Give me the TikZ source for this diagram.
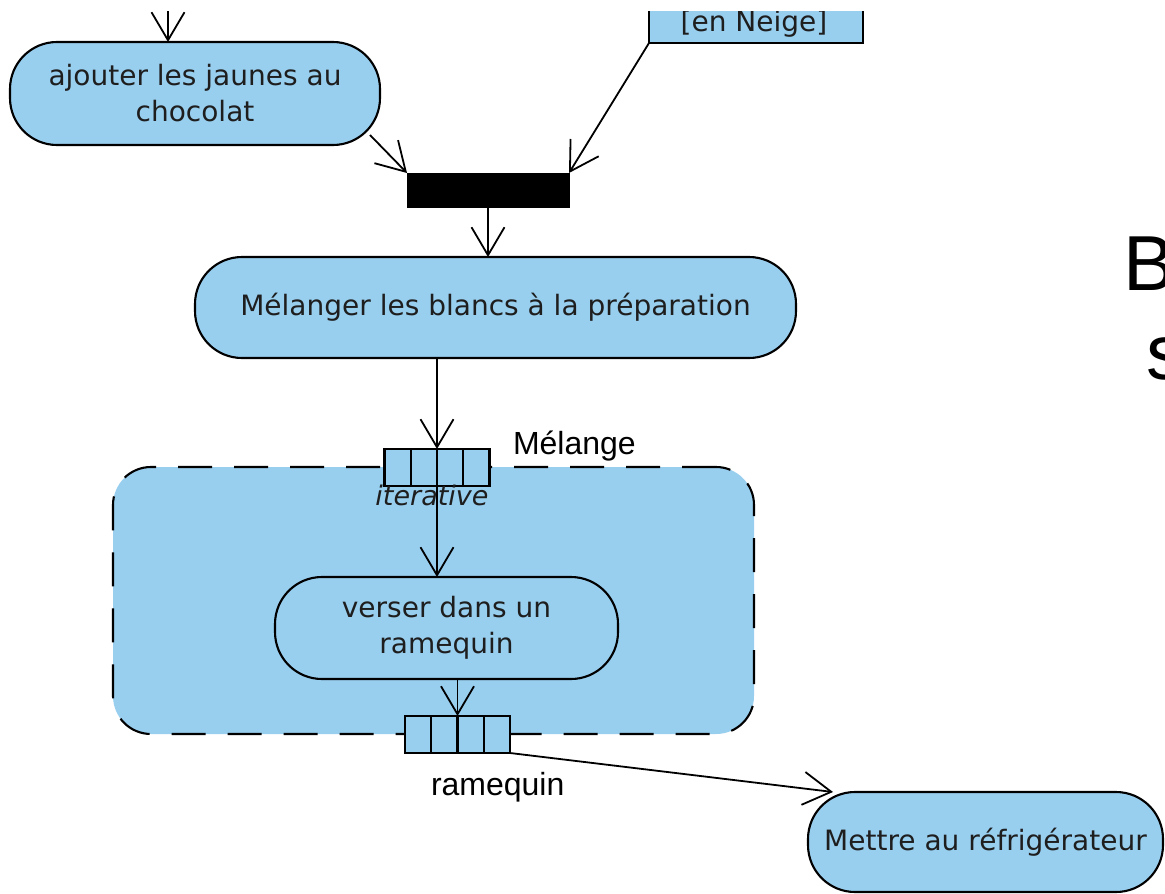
\documentclass[tikz,border=0pt]{standalone}
\usepackage{fontspec}
\setmainfont{DejaVu Sans}
\newfontfamily\labfont{Liberation Sans}
\usetikzlibrary{arrows.meta,calc}
\definecolor{actblue}{RGB}{152,206,238}
\definecolor{txt}{RGB}{30,30,30}
\begin{document}
\begin{tikzpicture}[x=1pt,y=-1pt,
  every node/.style={inner sep=0pt, outer sep=0pt},
  act/.style={draw=black, line width=2.1pt, fill=actblue, rounded corners=47pt,
    align=center, text=txt, font=\fontsize{28}{36}\selectfont},
  objbox/.style={draw=black, line width=2.1pt, fill=actblue, text=txt,
    font=\fontsize{28}{36}\selectfont},
  forkbar/.style={draw=black, fill=black, minimum width=162pt, minimum height=34pt},
  pinbox/.style={draw=black, line width=2.1pt, fill=actblue, minimum width=105pt, minimum height=37pt,
    path picture={\foreach \i in {1,2,3}{\draw[line width=2.1pt]
      ($(path picture bounding box.south west)!\i/4!(path picture bounding box.south east)$) --
      ($(path picture bounding box.north west)!\i/4!(path picture bounding box.north east)$);}}},
  expregion/.style={draw=black, line width=2.1pt, fill=actblue, dash pattern=on 34pt off 22pt,
    rounded corners=38pt, minimum width=641pt, minimum height=267pt},
  flow/.style={draw=black, line width=1.8pt,
    -{Straight Barb[length=28pt,width=33pt,line width=1.8pt]}},
  lab/.style={font=\labfont\fontsize{32}{38}\selectfont, text=black},
  big/.style={font=\labfont\fontsize{78}{90}\selectfont, text=black}]
\useasboundingbox (0,0) rectangle (1165,894);
\fill[white] (0,0) rectangle (1165,894);
\begin{scope}
\clip (0,11) rectangle (1165,894);
% expansion region
\node[expregion] (exp) at (433.5,600.5) {};
% actions
\node[act, minimum width=370pt, minimum height=103pt] (ajouter) at (195,93.5) {ajouter les jaunes au\\chocolat};
\node[objbox, minimum width=214pt, minimum height=90pt] (neige) at (756,-2) {};
\node[anchor=base, text=txt, font=\fontsize{28}{36}\selectfont] (neigetxt) at (754,31) {[en Neige]};
\node[forkbar] (fork) at (488,190) {};
\node[act, minimum width=601pt, minimum height=101pt] (melanger) at (495.5,307.5) {M\'elanger les blancs \`a la pr\'eparation};
\node[act, minimum width=343pt, minimum height=102pt] (verser) at (446.5,628) {verser dans un\\ramequin};
\node[act, minimum width=355pt, minimum height=100pt] (mettre) at (985.5,842) {Mettre au r\'efrig\'erateur};
% pins
\node[pinbox] (pin1) at (437,467.5) {};
\node[pinbox] (pin2) at (457.5,734.5) {};
\node[text=txt, font=\itshape\fontsize{27}{36}\selectfont, anchor=base] (iter) at (432,505) {iterative};
\node[lab, anchor=base west] (lmel) at (513,454) {M\'elange};
\node[lab, anchor=base west] (lram) at (431,795) {ramequin};
% big partial text
\node[big, anchor=base west] (bigB) at (1123,290) {B};
\node[big, anchor=base west] (bigs) at (1146,379) {s};
% connectors
\coordinate (topsrc) at (168,0);
\draw[flow] (topsrc) -- (topsrc |- ajouter.north);
\draw[flow] ($(ajouter.south east)+(-10,-10)$) -- (fork.north west);
\draw[flow] (neige.south west) -- (fork.north east);
\draw[flow] (fork.south) -- (fork.south |- melanger.north);
\draw[flow] (pin1.north |- melanger.south) -- (pin1.north);
\draw[flow] (pin1.south) -- (pin1.south |- verser.north);
\draw[flow] (pin2.north |- verser.south) -- (pin2.north);
\draw[flow] (pin2.south east) -- ($(mettre.north west)+(25,0)$);
\end{scope}
\end{tikzpicture}
\end{document}
